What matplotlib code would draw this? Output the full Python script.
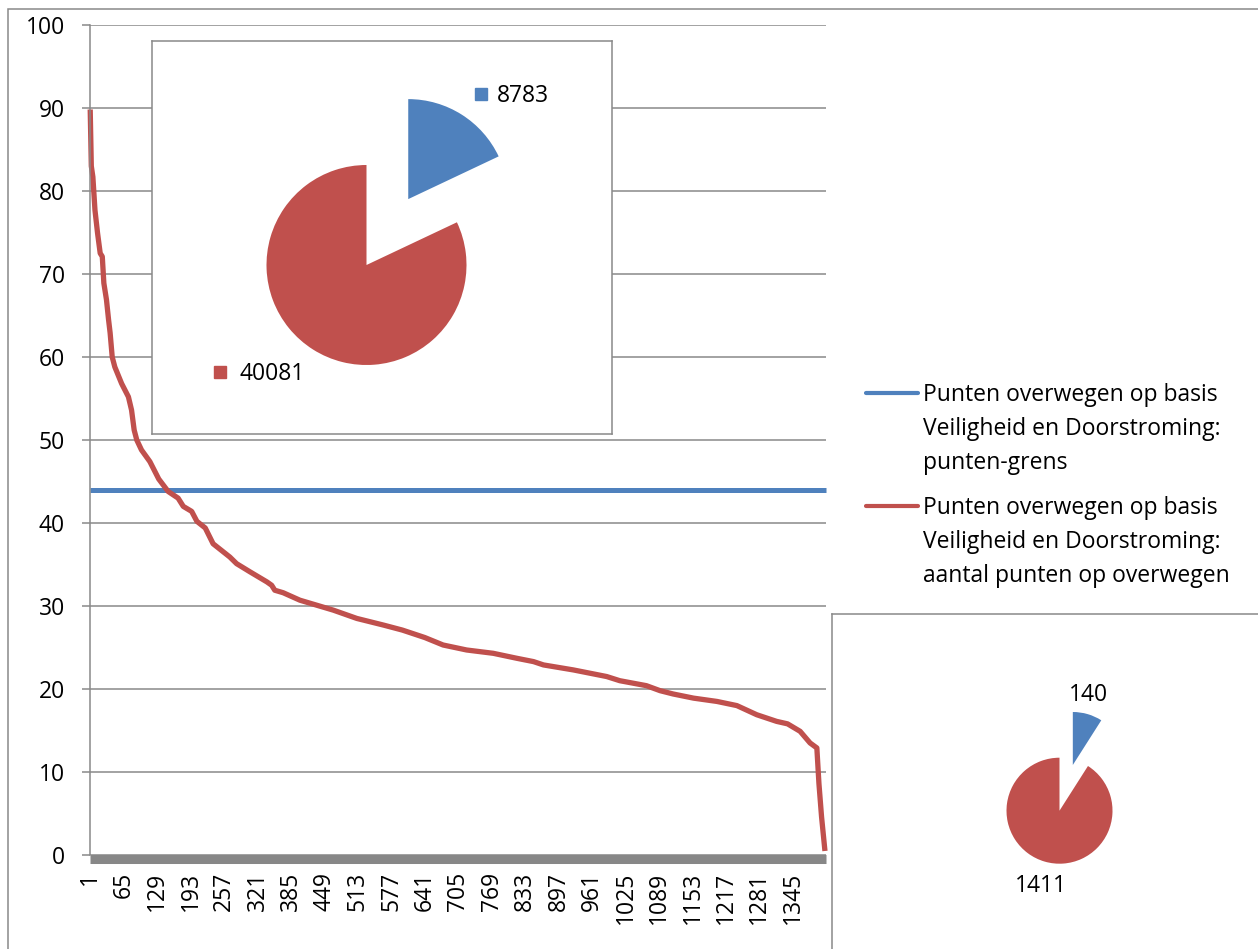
"""
Punten overwegen: sorted line chart with two pie insets.
"""

import matplotlib
matplotlib.use("Agg")
import matplotlib.pyplot as plt
from matplotlib.lines import Line2D
from matplotlib.patches import Rectangle

W, H = 1258, 949
BLUE = "#4F81BD"
RED = "#C0504D"
GRID = "#898989"
BAR = "#878787"
FONT = "Open Sans"
SIZE = 16.5

n_points = 1408
threshold = 44
tick_labels = [1, 65, 129, 193, 257, 321, 385, 449, 513, 577, 641, 705,
               769, 833, 897, 961, 1025, 1089, 1153, 1217, 1281, 1345]

# values (rank -> points)
rank = [1, 3, 6, 10, 15, 20, 24, 27, 32, 36, 39, 43, 48, 61, 74, 80, 85,
        90, 99, 115, 132, 150, 169, 179, 195, 205, 221, 236, 268, 281, 307,
        339, 348, 354, 370, 402, 434, 466, 511, 562, 598, 641, 676, 721,
        772, 817, 849, 868, 925, 989, 1014, 1065, 1091, 1116, 1155, 1200,
        1238, 1276, 1295, 1314, 1335, 1359, 1378, 1391, 1395, 1400, 1406]
points = [89.5, 83.0, 81.7, 77.7, 74.9, 72.5, 72.1, 68.9, 66.9, 64.5, 62.9,
          60.0, 58.8, 56.8, 55.2, 53.6, 51.2, 50.0, 48.8, 47.4, 45.3, 43.8,
          43.0, 42.0, 41.4, 40.2, 39.4, 37.5, 35.9, 35.1, 34.1, 32.9, 32.5,
          31.9, 31.6, 30.7, 30.1, 29.5, 28.5, 27.7, 27.1, 26.2, 25.3, 24.7,
          24.3, 23.7, 23.3, 22.9, 22.3, 21.5, 21.0, 20.4, 19.8, 19.4, 18.9,
          18.5, 18.0, 16.9, 16.5, 16.1, 15.8, 14.9, 13.5, 12.9, 8.6, 4.6, 0.8]

legend_labels = ["Punten overwegen op basis\nVeiligheid en Doorstroming:\npunten-grens",
                 "Punten overwegen op basis\nVeiligheid en Doorstroming:\naantal punten op overwegen"]

pie_big = [8783, 40081]
pie_small = [140, 1411]

plt.rcParams["font.family"] = [FONT, "DejaVu Sans"]
plt.rcParams["font.size"] = SIZE


def px_box(x0, y0, x1, y1):
    return [x0 / W, 1 - y1 / H, (x1 - x0) / W, (y1 - y0) / H]


def fx(x):
    return x / W


def fy(y):
    return 1 - y / H


fig = plt.figure(figsize=(W / 100, H / 100), dpi=100)
fig.patches.append(Rectangle((fx(8), -0.1), 1.1, fy(9) + 0.1, transform=fig.transFigure,
                             fill=False, ec=GRID, lw=1.1))

# main line chart
ax = fig.add_axes(px_box(90, 25, 826, 855))
for side in ("top", "right"):
    ax.spines[side].set_visible(False)
ax.spines["left"].set_color(GRID)
ax.spines["left"].set_linewidth(1.1)
ax.spines["bottom"].set_color(BAR)
ax.spines["bottom"].set_linewidth(6.5)
ax.spines["bottom"].set_capstyle("butt")
ax.spines["bottom"].set_position(("outward", 3.2))

ax.set_xlim(0.5, n_points + 0.5)
ax.set_ylim(0, 100)
ax.set_yticks(range(0, 101, 10))
ax.grid(axis="y", color=GRID, lw=1.1)
ax.set_axisbelow(True)
ax.set_xticks(tick_labels)
ax.set_xticklabels([str(t) for t in tick_labels])
ax.tick_params(axis="x", length=0, pad=9, labelrotation=90)
ax.tick_params(axis="y", length=6, width=1.1, color=GRID, pad=12)

ax.plot([1, n_points], [threshold, threshold], color=BLUE, lw=3.6,
        solid_capstyle="butt", clip_on=False)
ax.plot(rank, points, color=RED, lw=3.8, solid_joinstyle="round", clip_on=False)


def pie_axes(x0, y0, x1, y1):
    a = fig.add_axes(px_box(x0, y0, x1, y1))
    for s in a.spines.values():
        s.set_color(GRID)
        s.set_linewidth(1.1)
    return a, (x0, x1, H - y1, H - y0)


def finish(a, lims):
    a.set_aspect("auto")
    a.set_xlim(lims[0], lims[1])
    a.set_ylim(lims[2], lims[3])
    a.set_xticks([])
    a.set_yticks([])
    a.set_facecolor("white")


# big pie inset
pa, lims = pie_axes(152, 41, 612, 434)
pa.pie(pie_big, colors=[BLUE, RED], startangle=90, counterclock=False,
       radius=100, center=(366.5, H - 265), explode=[78, 0], frame=True,
       wedgeprops=dict(linewidth=0))
finish(pa, lims)
pa.add_patch(Rectangle((475, H - 100), 12, 12, color=BLUE))
pa.text(497, H - 102, str(pie_big[0]), va="baseline", ha="left")
pa.add_patch(Rectangle((214, H - 378), 12, 12, color=RED))
pa.text(240, H - 380, str(pie_big[1]), va="baseline", ha="left")

# small pie inset
pb, lims = pie_axes(832, 614, 1264, 955)
pb.pie(pie_small, colors=[BLUE, RED], startangle=90, counterclock=False,
       radius=53, center=(1059.5, H - 810.7), explode=[47.6, 0], frame=True,
       wedgeprops=dict(linewidth=0))
finish(pb, lims)
pb.text(1088.7, H - 695, str(pie_small[0]), va="center", ha="center")
pb.text(1041, H - 886, str(pie_small[1]), va="center", ha="center")

# legend
for (label, color, y_line) in zip(legend_labels, [BLUE, RED], [393, 506]):
    fig.add_artist(Line2D([fx(866), fx(918)], [fy(y_line), fy(y_line)],
                          color=color, lw=3, solid_capstyle="round"))
    for i, line in enumerate(label.split("\n")):
        fig.text(fx(923), fy(y_line + 8 + 34 * i), line, va="baseline", ha="left")

fig.savefig("out.png", dpi=100)
